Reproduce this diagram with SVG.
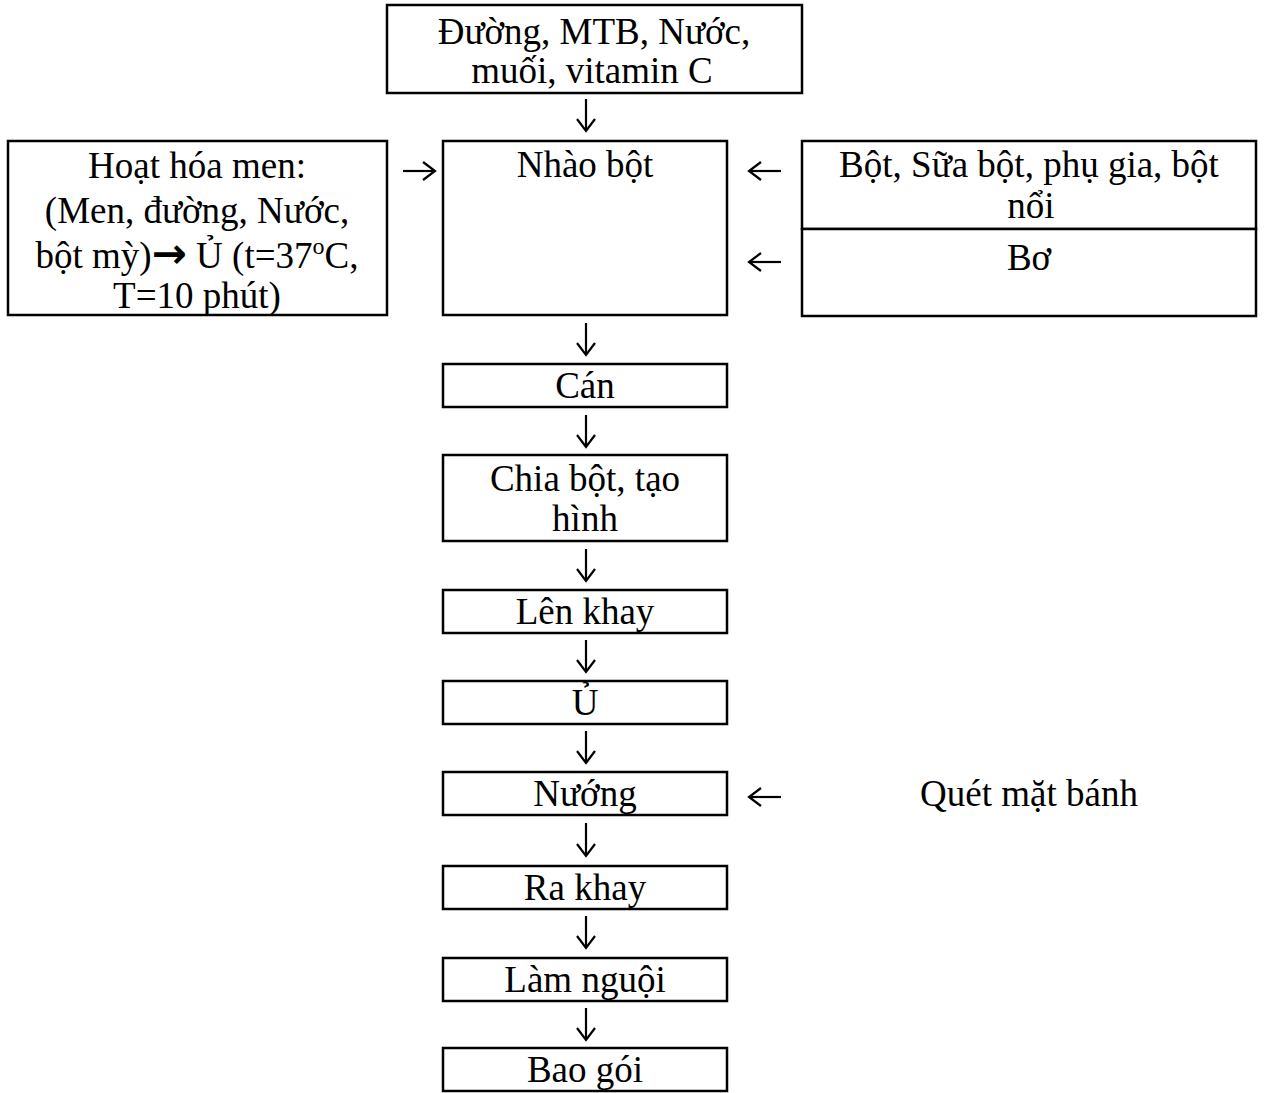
<svg xmlns="http://www.w3.org/2000/svg" width="1264" height="1093" viewBox="0 0 1264 1093">
  <style>
    .box { fill: #ffffff; stroke: #000000; stroke-width: 2.5; }
    .lbl { font-family: "Liberation Serif", "Times New Roman", serif; font-size: 37px; fill: #000000; text-anchor: middle; }
    .arr { fill: none; stroke: #000000; stroke-width: 2.2; marker-end: url(#head); }
    .bold-arrow { font-family: "DejaVu Sans", sans-serif; font-weight: bold; font-size: 42px; }
  </style>
  <defs>
    <marker id="head" viewBox="-14 -11 16 22" refX="0" refY="0" markerWidth="16" markerHeight="22" markerUnits="userSpaceOnUse" orient="auto">
      <path d="M-12,-9 L0,0 L-12,9" fill="none" stroke="#000000" stroke-width="2.2"/>
    </marker>
  </defs>
  <rect width="1264" height="1093" fill="#ffffff"/>

  <!-- ingredient inputs -->
  <g id="n-top">
    <rect class="box" x="387" y="5" width="415" height="88"/>
    <text class="lbl" x="594" y="44">Đường, MTB, Nước,</text>
    <text class="lbl" x="592" y="83">muối, vitamin C</text>
  </g>

  <g id="n-men">
    <rect class="box" x="8" y="141" width="379" height="174"/>
    <text class="lbl" x="197" y="178">Hoạt hóa men:</text>
    <text class="lbl" x="197" y="223">(Men, đường, Nước,</text>
    <text class="lbl" x="197" y="268">bột mỳ)<tspan class="bold-arrow">→</tspan> Ủ (t=37<tspan font-size="24" dy="-14">o</tspan><tspan dy="14">C,</tspan></text>
    <text class="lbl" x="197" y="308">T=10 phút)</text>
  </g>

  <g id="n-phugia">
    <rect class="box" x="802" y="141" width="454" height="88"/>
    <text class="lbl" x="1029" y="177">Bột, Sữa bột, phụ gia, bột</text>
    <text class="lbl" x="1031" y="218">nổi</text>
  </g>

  <g id="n-bo">
    <rect class="box" x="802" y="229" width="454" height="87"/>
    <text class="lbl" x="1029" y="270">Bơ</text>
  </g>

  <g id="n-quet">
    <text class="lbl" x="1029" y="806">Quét mặt bánh</text>
  </g>

  <!-- main process column -->
  <g id="n-nhao">
    <rect class="box" x="443" y="141" width="284" height="174"/>
    <text class="lbl" x="585" y="177">Nhào bột</text>
  </g>
  <g id="n-can">
    <rect class="box" x="443" y="364" width="284" height="43"/>
    <text class="lbl" x="585" y="398">Cán</text>
  </g>
  <g id="n-chia">
    <rect class="box" x="443" y="455" width="284" height="86"/>
    <text class="lbl" x="585" y="491">Chia bột, tạo</text>
    <text class="lbl" x="585" y="531">hình</text>
  </g>
  <g id="n-lenkhay">
    <rect class="box" x="443" y="590" width="284" height="43"/>
    <text class="lbl" x="585" y="624">Lên khay</text>
  </g>
  <g id="n-u">
    <rect class="box" x="443" y="681" width="284" height="43"/>
    <text class="lbl" x="585" y="715">Ủ</text>
  </g>
  <g id="n-nuong">
    <rect class="box" x="443" y="772" width="284" height="43"/>
    <text class="lbl" x="585" y="806">Nướng</text>
  </g>
  <g id="n-rakhay">
    <rect class="box" x="443" y="866" width="284" height="43"/>
    <text class="lbl" x="585" y="900">Ra khay</text>
  </g>
  <g id="n-lamnguoi">
    <rect class="box" x="443" y="958" width="284" height="43"/>
    <text class="lbl" x="585" y="992">Làm nguội</text>
  </g>
  <g id="n-baogoi">
    <rect class="box" x="443" y="1048" width="284" height="43"/>
    <text class="lbl" x="585" y="1082">Bao gói</text>
  </g>

  <!-- connectors -->
  <g id="connectors">
    <path class="arr" d="M586 99 V131"/>
    <path class="arr" d="M586 323 V355"/>
    <path class="arr" d="M586 415 V447"/>
    <path class="arr" d="M586 549 V581"/>
    <path class="arr" d="M586 640 V672"/>
    <path class="arr" d="M586 731 V763"/>
    <path class="arr" d="M586 823 V856"/>
    <path class="arr" d="M586 916 V948"/>
    <path class="arr" d="M586 1008 V1040"/>
    <path class="arr" d="M403 171 H435"/>
    <path class="arr" d="M781 171 H749"/>
    <path class="arr" d="M781 262 H749"/>
    <path class="arr" d="M781 797 H749"/>
  </g>
</svg>
